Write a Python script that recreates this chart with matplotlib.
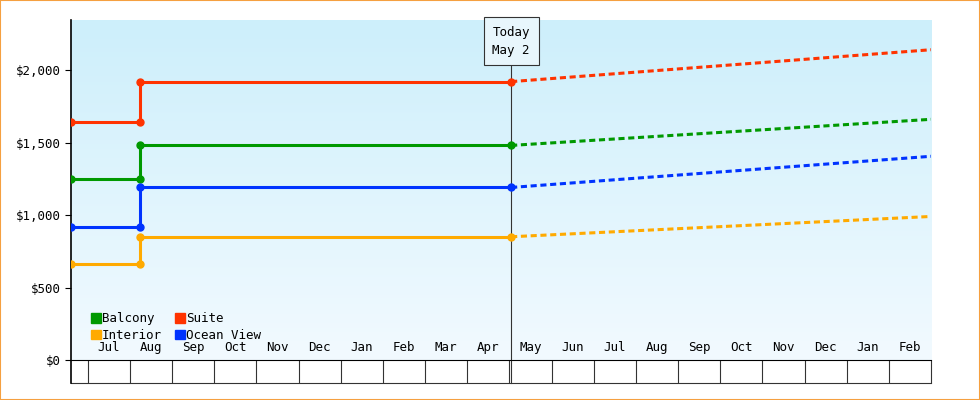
import numpy as np
import matplotlib.pyplot as plt
from matplotlib.patches import Rectangle

plt.rcParams["font.family"] = "DejaVu Sans Mono"

# x in months, 0 = start of Jul
x_start, x_step, x_today, x_end = -0.4, 1.23, 10.04, 20.0
month_labels = ["Jul", "Aug", "Sep", "Oct", "Nov", "Dec", "Jan", "Feb", "Mar", "Apr",
                "May", "Jun", "Jul", "Aug", "Sep", "Oct", "Nov", "Dec", "Jan", "Feb"]

names = ["Balcony", "Suite", "Interior", "Ocean View"]
colors = ["#009900", "#ff3300", "#ffaa00", "#0033ff"]
old_price = [1250, 1640, 665, 920]
new_price = [1480, 1920, 850, 1190]
future_price = [1660, 2140, 990, 1405]

fig = plt.figure(figsize=(9.8, 4), dpi=100)
fig.patches.append(Rectangle((0, 0), 1, 1, transform=fig.transFigure, fill=False,
                             edgecolor="#f5a040", linewidth=1.5))
ax = fig.add_axes([71 / 980, 40 / 400, 860 / 980, 340 / 400])

# gradient background
grad = np.linspace(0, 1, 256).reshape(-1, 1)
ax.imshow(grad, extent=[0, 1, 0, 1], transform=ax.transAxes, aspect="auto",
          cmap=plt.matplotlib.colors.LinearSegmentedColormap.from_list("bg", ["#cdeffb", "#f2faff"]),
          zorder=0)

for n, c, o, p, f in zip(names, colors, old_price, new_price, future_price):
    ax.plot([x_start, x_step, x_step, x_today], [o, o, p, p], color=c, lw=2.2, zorder=3)
    ax.plot([x_start, x_step, x_step, x_today], [o, o, p, p], "o", color=c, ms=5, zorder=4)
    ax.plot([x_today, x_end], [p, f], color=c, lw=2.2, ls=(0, (2, 1.2)), zorder=3)

ax.set_xlim(x_start, x_end)
ax.set_yticks([0, 500, 1000, 1500, 2000])
ax.set_yticklabels(["$0", "$500", "$1,000", "$1,500", "$2,000"], fontsize=9)
ax.tick_params(axis="y", length=4)

ax.set_xticks(np.arange(0, 21))
ax.set_xticklabels([])
ax.tick_params(axis="x", which="major", length=16.5, width=0.8, color="#333333")
ax.set_xticks(np.arange(0.5, 20), minor=True)
ax.set_xticklabels(month_labels, minor=True, fontsize=9)
ax.tick_params(axis="x", which="minor", length=0, pad=-14)

for s in ["top", "right"]:
    ax.spines[s].set_visible(False)
ax.spines["bottom"].set_linewidth(0.8)
ax.spines["left"].set_linewidth(1.2)
ax.spines["left"].set_bounds(-159, 2345)
ax.set_ylim(0, 2345)
# bottom line of the month boxes
ax.plot([x_start, x_end], [-159, -159], color="#333333", lw=0.8, clip_on=False)

# today marker
ax.plot([x_today, x_today], [-159, 2345], color="#333333", lw=0.8, clip_on=False, zorder=2)
ax.text(x_today, 2200, "Today\nMay 2", ha="center", va="center", fontsize=9, zorder=5,
        linespacing=1.5,
        bbox=dict(boxstyle="square,pad=0.7", facecolor="#e8f6fc", edgecolor="#333333", lw=0.8))

order = [0, 2, 1, 3]
ax.legend([Rectangle((0, 0), 1, 1, color=colors[i]) for i in order],
          [names[i] for i in order],
          ncol=2, loc="lower left", bbox_to_anchor=(0.01, 0.02), frameon=False, fontsize=9,
          handlelength=0.8, handleheight=0.8, columnspacing=1.0, handletextpad=0.1,
          labelspacing=0.3)

fig.savefig("out.png", dpi=100)
